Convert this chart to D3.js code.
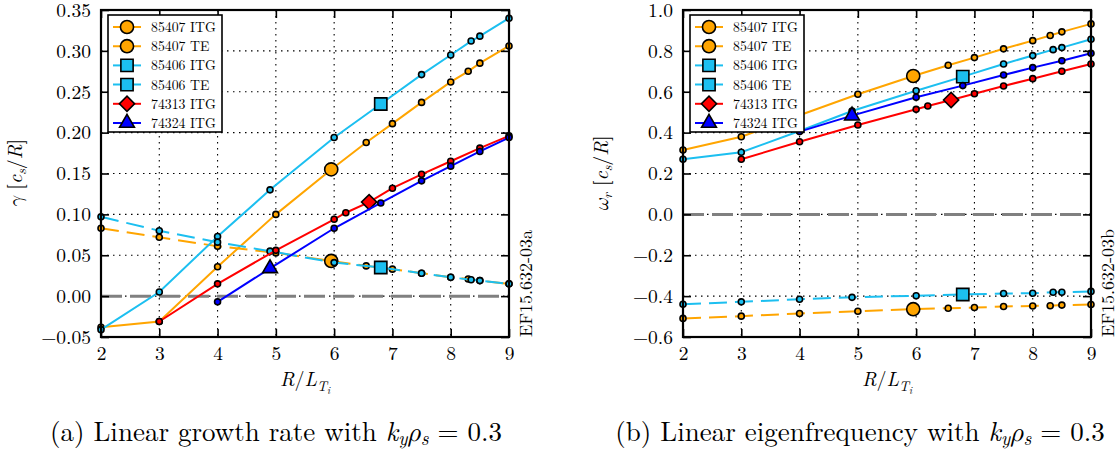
<!DOCTYPE html>
<html>
<head>
<meta charset="utf-8">
<script src="https://cdn.jsdelivr.net/npm/d3@7"></script>
<style>
body { margin: 0; background: #fff; }
text { font-family: "Latin Modern Roman", "Latin Modern Math", "Liberation Serif", serif; fill: #000; }
</style>
</head>
<body>
<svg id="fig" width="1119" height="450"></svg>
<script>
// R/L_Ti scan points per discharge
var rlt85407 = [2, 3, 4, 5, 5.95, 6.55, 7, 7.5, 8, 8.3, 8.5, 9];
var rlt85406 = [2, 3, 4, 4.9, 6, 6.8, 7.5, 8, 8.35, 8.5, 9];
var rlt74313 = [3, 4, 5, 6, 6.2, 6.6, 7, 7.5, 8, 8.5, 9];
var rlt74324 = [4, 4.9, 6, 6.8, 7.5, 8, 8.5, 9];

// growth rate gamma [c_s/R]
var gamma85407ITG = [-0.038, -0.031, 0.036, 0.100, 0.155, 0.188, 0.211, 0.237, 0.262, 0.275, 0.285, 0.306];
var gamma85407TE = [0.083, 0.072, 0.061, 0.053, 0.043, 0.037, 0.033, 0.028, 0.023, 0.021, 0.019, 0.015];
var gamma85406ITG = [-0.041, 0.005, 0.073, 0.130, 0.194, 0.235, 0.271, 0.295, 0.312, 0.318, 0.340];
var gamma85406TE = [0.097, 0.080, 0.066, 0.055, 0.041, 0.035, 0.028, 0.023, 0.020, 0.019, 0.015];
var gamma74313ITG = [-0.031, 0.015, 0.056, 0.094, 0.102, 0.115, 0.132, 0.149, 0.165, 0.181, 0.196];
var gamma74324ITG = [-0.007, 0.034, 0.083, 0.114, 0.141, 0.159, 0.177, 0.194];

// real frequency omega_r [c_s/R]
var omega85407ITG = [0.315, 0.38, 0.485, 0.588, 0.677, 0.73, 0.767, 0.81, 0.85, 0.875, 0.893, 0.932];
var omega85407TE = [-0.509, -0.498, -0.485, -0.474, -0.464, -0.459, -0.456, -0.451, -0.448, -0.447, -0.444, -0.441];
var omega85406ITG = [0.27, 0.304, 0.408, 0.506, 0.605, 0.674, 0.736, 0.777, 0.806, 0.816, 0.857];
var omega85406TE = [-0.44, -0.428, -0.415, -0.406, -0.398, -0.392, -0.387, -0.386, -0.381, -0.381, -0.377];
var omega74313ITG = [0.27, 0.355, 0.437, 0.514, 0.53, 0.56, 0.59, 0.628, 0.664, 0.70, 0.736];
var omega74324ITG = [0.405, 0.483, 0.573, 0.63, 0.682, 0.718, 0.752, 0.788];

// nominal (experimental) R/L_Ti of each discharge, drawn with the big marker
var nominal85407 = 5.95, nominal85406 = 6.8, nominal74313 = 6.6, nominal74324 = 4.9;

var seriesNames = ["85407 ITG", "85407 TE", "85406 ITG", "85406 TE", "74313 ITG", "74324 ITG"];
var gammaTicks = [-0.05, 0, 0.05, 0.10, 0.15, 0.20, 0.25, 0.30, 0.35];
var omegaTicks = [-0.6, -0.4, -0.2, 0, 0.2, 0.4, 0.6, 0.8, 1.0];
var xTicks = [2, 3, 4, 5, 6, 7, 8, 9];

var orange = "#ffa500", cyan = "#1cbff0", red = "#ff0000", blue = "#0000ff";
var teDash = "18,8";
var serif = "'Latin Modern Roman', 'Latin Modern Math', 'Liberation Serif', serif";

var series = [
    {name: seriesNames[0], x: rlt85407, g: gamma85407ITG, w: omega85407ITG, color: orange, te: false, sym: "circle", nom: nominal85407},
    {name: seriesNames[1], x: rlt85407, g: gamma85407TE, w: omega85407TE, color: orange, te: true, sym: "circle", nom: nominal85407},
    {name: seriesNames[2], x: rlt85406, g: gamma85406ITG, w: omega85406ITG, color: cyan, te: false, sym: "square", nom: nominal85406},
    {name: seriesNames[3], x: rlt85406, g: gamma85406TE, w: omega85406TE, color: cyan, te: true, sym: "square", nom: nominal85406},
    {name: seriesNames[4], x: rlt74313, g: gamma74313ITG, w: omega74313ITG, color: red, te: false, sym: "diamond", nom: nominal74313},
    {name: seriesNames[5], x: rlt74324, g: gamma74324ITG, w: omega74324ITG, color: blue, te: false, sym: "triangle", nom: nominal74324}
];

var W = 408, H = 327, top0 = 10;
var svg = d3.select("#fig");

function bigMarker(sel, sym, color) {
    var p;
    if (sym == "circle") p = d3.symbol().type(d3.symbolCircle).size(135)();
    else if (sym == "square") p = d3.symbol().type(d3.symbolSquare).size(150)();
    else if (sym == "diamond") p = d3.symbol().type(d3.symbolSquare).size(115)();
    else p = d3.symbol().type(d3.symbolTriangle).size(95)();
    return sel.append("path")
        .attr("d", p)
        .attr("fill", color)
        .attr("stroke", "#000")
        .attr("stroke-width", 1.6);
}

function place(m, sym, x, y) {
    m.attr("transform", "translate(" + x + "," + y + ")" + (sym == "diamond" ? " rotate(45)" : ""));
}

function drawPanel(left, key, yDomain, yTicks, fmt, tag) {
    var g = svg.append("g").attr("transform", "translate(" + left + "," + top0 + ")");
    var x = d3.scaleLinear().domain([2, 9]).range([0, W]);
    var y = d3.scaleLinear().domain(yDomain).range([H, 0]);

    // dotted grid
    g.append("g").selectAll("line").data(xTicks).enter().append("line")
        .attr("x1", function (d) { return x(d); }).attr("x2", function (d) { return x(d); })
        .attr("y1", 0).attr("y2", H)
        .attr("stroke", "#000").attr("stroke-width", 1.1).attr("stroke-dasharray", "1.5,4.5");
    g.append("g").selectAll("line").data(yTicks).enter().append("line")
        .attr("y1", function (d) { return y(d); }).attr("y2", function (d) { return y(d); })
        .attr("x1", 0).attr("x2", W)
        .attr("stroke", "#000").attr("stroke-width", 1.1).attr("stroke-dasharray", "1.5,4.5");

    // zero line
    g.append("line")
        .attr("x1", 0).attr("x2", W).attr("y1", y(0)).attr("y2", y(0))
        .attr("stroke", "#808080").attr("stroke-width", 3).attr("stroke-dasharray", "21,8");

    var line = d3.line()
        .x(function (d) { return x(d[0]); })
        .y(function (d) { return y(d[1]); });

    series.forEach(function (s) {
        var pts = s.x.map(function (v, i) { return [v, s[key][i]]; });
        g.append("path")
            .attr("d", line(pts))
            .attr("fill", "none")
            .attr("stroke", s.color)
            .attr("stroke-width", 2)
            .attr("stroke-dasharray", s.te ? teDash : null);
        g.append("g").selectAll("circle")
            .data(pts.filter(function (d) { return d[0] != s.nom; }))
            .enter().append("circle")
            .attr("cx", function (d) { return x(d[0]); })
            .attr("cy", function (d) { return y(d[1]); })
            .attr("r", 3)
            .attr("fill", s.color)
            .attr("stroke", "#000")
            .attr("stroke-width", 1.6);
        var nomPt = pts.filter(function (d) { return d[0] == s.nom; })[0];
        place(bigMarker(g, s.sym, s.color), s.sym, x(nomPt[0]), y(nomPt[1]));
    });

    // axes, ticks pointing inward
    var ax = g.append("g").attr("transform", "translate(0," + H + ")")
        .call(d3.axisBottom(x).tickValues(xTicks).tickFormat(d3.format("d")).tickSizeInner(-8).tickSizeOuter(0).tickPadding(8));
    g.append("g")
        .call(d3.axisLeft(y).tickValues(yTicks).tickFormat(d3.format(fmt)).tickSizeInner(-8).tickSizeOuter(0).tickPadding(10));
    g.append("g").attr("transform", "translate(" + W + ",0)")
        .call(d3.axisRight(y).tickValues(yTicks).tickFormat("").tickSizeInner(-8).tickSizeOuter(0));
    g.append("g")
        .call(d3.axisTop(x).tickValues(xTicks).tickFormat("").tickSizeInner(-8).tickSizeOuter(0));
    g.selectAll(".domain").remove();
    g.selectAll("g").attr("font-family", null);
    g.selectAll(".tick line").attr("stroke", "#000").attr("stroke-width", 1.6);
    g.selectAll(".tick text").style("font-family", serif).style("font-size", "19.5px").attr("fill", "#000");
    ax.selectAll(".tick text").attr("dy", "0.78em");

    g.append("rect")
        .attr("width", W).attr("height", H)
        .attr("fill", "none").attr("stroke", "#000").attr("stroke-width", 2.2);

    // legend
    var lg = g.append("g").attr("transform", "translate(7,5)");
    lg.append("rect")
        .attr("width", 114).attr("height", 117)
        .attr("fill", "#fff").attr("stroke", "#000").attr("stroke-width", 1.6);
    series.forEach(function (s, i) {
        var ry = 12 + i * 19.2;
        lg.append("line")
            .attr("x1", 5).attr("x2", 33).attr("y1", ry).attr("y2", ry)
            .attr("stroke", s.color).attr("stroke-width", 2)
            .attr("stroke-dasharray", s.te ? "8,13" : null);
        place(bigMarker(lg, s.sym, s.color), s.sym, 19, ry);
        lg.append("text")
            .attr("x", 43).attr("y", ry + 5)
            .style("font-family", serif)
            .style("font-size", "13.8px")
            .text(s.name);
    });

    // x label R/L_Ti
    var xl = g.append("text")
        .attr("x", W / 2).attr("y", H + 49)
        .attr("text-anchor", "middle")
        .style("font-family", serif)
        .style("font-size", "20px");
    xl.append("tspan").style("font-style", "italic").text("R");
    xl.append("tspan").text("/");
    xl.append("tspan").style("font-style", "italic").text("L");
    xl.append("tspan").style("font-style", "italic").style("font-size", "14px").attr("dy", 5).text("T");
    xl.append("tspan").style("font-style", "italic").style("font-size", "10px").attr("dy", 3).text("i");

    // rotated tag
    g.append("text")
        .attr("transform", "translate(" + (W + 23) + "," + H + ") rotate(-90)")
        .style("font-family", serif)
        .style("font-size", "18px")
        .text(tag);
    return g;
}

function yLabel(g, cx, sym, sub) {
    var t = g.append("text")
        .attr("transform", "translate(" + cx + "," + (top0 + H / 2) + ") rotate(-90)")
        .attr("text-anchor", "middle")
        .style("font-family", serif)
        .style("font-size", "20px");
    t.append("tspan").style("font-style", "italic").text(sym);
    if (sub) t.append("tspan").style("font-style", "italic").style("font-size", "14px").attr("dy", 4).text(sub);
    t.append("tspan").attr("dy", sub ? -4 : 0).text(" [");
    t.append("tspan").style("font-style", "italic").text("c");
    t.append("tspan").style("font-style", "italic").style("font-size", "14px").attr("dy", 4).text("s");
    t.append("tspan").attr("dy", -4).text("/");
    t.append("tspan").style("font-style", "italic").text("R");
    t.append("tspan").text("]");
}

function caption(cx, label) {
    var t = svg.append("text")
        .attr("x", cx).attr("y", 441)
        .attr("text-anchor", "middle")
        .style("font-family", serif)
        .style("font-size", "27px");
    t.append("tspan").text(label + " with ");
    t.append("tspan").style("font-style", "italic").text("k");
    t.append("tspan").style("font-style", "italic").style("font-size", "19px").attr("dy", 4).text("y");
    t.append("tspan").style("font-style", "italic").attr("dy", -4).text("ρ");
    t.append("tspan").style("font-style", "italic").style("font-size", "19px").attr("dy", 4).text("s");
    t.append("tspan").attr("dy", -4).text(" = 0.3");
}

drawPanel(101, "g", [-0.05, 0.35], gammaTicks, ".2f", "EF15.632-03a");
drawPanel(683, "w", [-0.6, 1.0], omegaTicks, ".1f", "EF15.632-03b");
yLabel(svg, 22, "γ", null);
yLabel(svg, 608, "ω", "r");
caption(276, "(a) Linear growth rate");
caption(860, "(b) Linear eigenfrequency");
</script>
</body>
</html>
